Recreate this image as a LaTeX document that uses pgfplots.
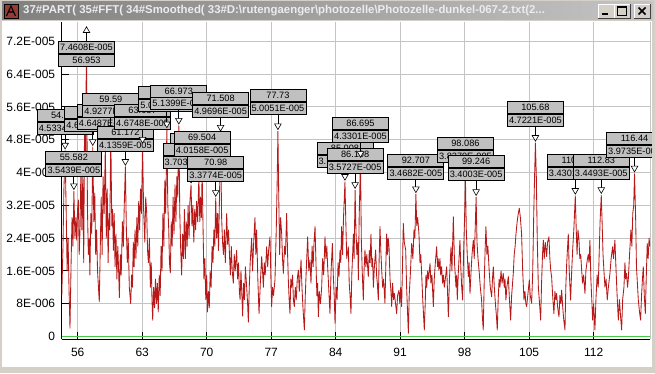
\documentclass[border=0pt]{standalone}
\usepackage{fontspec}
\setmainfont{Liberation Sans}
\usepackage{pgfplots}
\pgfplotsset{compat=1.18}
\definecolor{wingray}{RGB}{212,208,200}
\definecolor{boxgray}{RGB}{192,192,192}
\definecolor{gridcol}{RGB}{196,196,196}
\definecolor{linered}{RGB}{185,24,24}
\definecolor{zerogreen}{RGB}{70,200,70}
\definecolor{titledark}{RGB}{128,128,128}
\definecolor{titlelight}{RGB}{196,196,196}
\definecolor{titletext}{RGB}{236,236,236}
\definecolor{iconred}{RGB}{150,60,50}
\tikzset{cell/.style={draw=black, fill=boxgray, line width=0.8pt, minimum width=56pt, minimum height=12pt, inner sep=0pt, font=\fontsize{9.2}{10}\selectfont, text=black}}
% #1 x, #2 peak y, #3 box centre y, #4 top text, #5 bottom text
\newcommand{\ann}[5]{%
  \draw[black, line width=0.8pt] (axis cs:#1,#3) -- ([yshift=7pt]axis cs:#1,#2);
  \addplot[only marks, mark=triangle*, mark size=3.8pt, mark options={yshift=5.5pt, rotate=180, fill=white, draw=black, line width=0.6pt}] coordinates {(#1,#2)};
  \node[cell, anchor=south] at (axis cs:#1,#3) {#4};
  \node[cell, anchor=north] at (axis cs:#1,#3) {#5};
}
\newcommand{\annup}[5]{%
  \draw[black, line width=0.8pt] (axis cs:#1,#3) -- ([yshift=-1.5pt]axis cs:#1,#2);
  \addplot[only marks, mark=triangle*, mark size=3.8pt, mark options={fill=white, draw=black, line width=0.6pt}] coordinates {(#1,#2)};
  \node[cell, anchor=south] at (axis cs:#1,#3) {#4};
  \node[cell, anchor=north] at (axis cs:#1,#3) {#5};
}
\newcommand{\winbtn}[1]{%
  \fill[wingray] (#1,355pt) rectangle ++(16pt,14pt);
  \draw[white, line width=0.8pt] (#1,355pt) -- ++(0,14pt) -- ++(16pt,0);
  \draw[black!75, line width=0.8pt] (#1,355pt) -- ++(16pt,0) -- ++(0,14pt);
}
\begin{document}
\begin{tikzpicture}
\useasboundingbox (0,0) rectangle (655pt,373pt);
\fill[wingray] (0,0) rectangle (655pt,373pt);
\fill[white] (2pt,6pt) rectangle (653pt,352pt);
\begin{axis}[
  at={(61.7pt,34pt)}, anchor=south west,
  scale only axis, width=588.3pt, height=317pt,
  xmin=54.26, xmax=118.12, ymin=-0.061, ymax=7.671,
  axis x line*=bottom, axis y line*=left,
  axis line style={black, line width=1pt, -},
  xtick={56,63,70,77,84,91,98,105,112},
  xticklabels={56,63,70,77,84,91,98,105,112},
  ytick={0,0.8,1.6,2.4,3.2,4,4.8,5.6,6.4,7.2},
  yticklabels={0,8E-006,1.6E-005,2.4E-005,3.2E-005,4E-005,4.8E-005,5.6E-005,6.4E-005,7.2E-005},
  tick align=inside, major tick length=7pt,
  tick style={black, line width=1pt},
  grid=major, grid style={gridcol, line width=1pt},
  tick label style={font=\fontsize{12}{14}\selectfont, text=black},
  yticklabel style={xshift=-3pt},
  xticklabel style={yshift=-6pt},
  clip mode=individual,
]
\draw[gridcol, line width=1pt] (rel axis cs:1,0) -- (rel axis cs:1,1);
\addplot[zerogreen, line width=1pt] coordinates {(54.26,0) (118.12,0)};
\addplot[linered, line width=0.85pt, line join=round] table {
x y
54.27 1.0
54.40 2.2
54.50 3.6
54.632 4.53
54.75 3.0
54.85 1.6
54.95 2.4
55.06 1.1
55.16 0.2
55.28 1.8
55.38 2.9
55.48 2.2
55.582 3.54
55.70 2.4
55.80 2.9
55.89 2.35
55.98 3.1
56.07 3.33
56.16 2.0
56.25 2.6
56.35 4.2
56.45 2.6
56.55 3.9
56.65 1.8
56.75 5.5
56.85 4.0
56.953 7.46
57.05 3.2
57.15 2.0
57.25 2.4
57.32 1.5
57.42 3.0
57.52 2.5
57.63 4.62
57.75 2.8
57.85 3.5
57.95 2.0
58.05 2.6
58.15 1.6
58.25 1.2
58.34 0.85
58.45 2.2
58.55 3.4
58.65 2.0
58.75 3.9
58.87 3.0
58.997 4.65
59.10 2.4
59.20 3.6
59.30 1.8
59.40 3.0
59.48 2.6
59.59 4.93
59.70 2.7
59.78 3.1
59.87 2.1
59.96 3.0
60.05 1.7
60.15 2.5
60.25 1.4
60.35 2.2
60.44 1.6
60.52 0.95
60.62 2.0
60.72 1.5
60.85 2.8
60.95 2.2
61.05 3.2
61.172 4.14
61.28 2.6
61.38 1.8
61.48 2.4
61.60 1.2
61.75 0.8
61.85 1.5
61.94 1.2
62.03 2.3
62.12 1.7
62.22 2.6
62.32 1.9
62.42 2.9
62.52 2.2
62.62 3.3
62.72 2.6
62.82 3.6
62.92 3.0
63.037 4.67
63.15 3.1
63.28 2.3
63.38 3.4
63.49 3.0
63.58 2.1
63.67 1.8
63.78 2.4
63.88 1.2
63.98 1.8
64.06 0.9
64.14 0.4
64.24 1.2
64.34 0.7
64.44 1.4
64.54 0.8
64.64 1.3
64.74 0.6
64.85 1.5
64.95 1.0
65.05 2.2
65.15 1.6
65.25 3.0
65.35 2.2
65.45 3.8
65.55 3.0
65.672 5.05
65.78 3.2
65.88 2.6
65.96 1.8
66.05 1.55
66.15 2.8
66.25 2.2
66.35 3.4
66.45 2.5
66.56 3.7
66.66 2.8
66.76 3.9
66.86 3.4
66.973 5.14
67.08 3.0
67.18 2.1
67.28 1.5
67.38 2.5
67.48 1.9
67.58 3.1
67.68 1.9
67.78 2.8
67.88 2.2
67.98 3.2
68.08 2.4
68.18 3.3
68.301 3.70
68.40 2.7
68.50 3.2
68.60 2.3
68.70 3.1
68.80 2.6
68.90 3.3
69.02 2.8
69.15 3.9
69.25 2.8
69.33 3.4
69.42 2.9
69.504 4.02
69.60 2.7
69.70 1.4
69.80 1.9
69.90 0.9
70.00 1.5
70.08 0.6
70.18 1.1
70.28 0.7
70.38 1.6
70.48 1.2
70.58 2.2
70.68 1.8
70.78 2.6
70.88 2.2
70.98 3.38
71.08 2.4
71.18 3.0
71.28 2.1
71.38 3.3
71.508 4.97
71.62 2.9
71.72 2.3
71.82 2.0
71.92 2.6
72.02 1.8
72.17 3.0
72.27 2.25
72.37 2.6
72.47 2.0
72.57 1.5
72.67 2.2
72.77 1.6
72.89 1.3
72.99 2.0
73.09 1.6
73.25 2.1
73.35 1.4
73.45 1.8
73.55 1.1
73.62 0.9
73.72 1.6
73.82 1.0
73.90 0.5
74.00 1.3
74.10 0.9
74.20 1.7
74.34 1.2
74.44 0.8
74.52 0.35
74.62 1.2
74.72 1.8
74.88 2.4
74.98 1.6
75.08 2.2
75.24 2.9
75.33 2.0
75.42 2.6
75.55 1.4
75.68 0.56
75.82 1.3
75.97 1.95
76.06 1.6
76.15 1.2
76.25 1.8
76.35 1.5
76.51 2.19
76.62 1.7
76.72 2.1
76.87 2.43
76.96 1.5
77.05 0.73
77.15 1.2
77.25 1.0
77.41 1.38
77.55 2.6
77.65 3.8
77.73 5.0
77.82 3.4
77.92 2.0
78.02 2.9
78.14 2.5
78.23 1.9
78.32 1.54
78.45 2.2
78.55 2.0
78.68 3.0
78.78 2.0
78.86 1.38
78.95 0.9
79.04 0.56
79.13 1.4
79.22 1.2
79.32 1.5
79.41 0.9
79.51 0.73
79.62 1.2
79.72 0.9
79.83 1.4
79.95 1.62
80.05 1.1
80.15 1.5
80.24 1.87
80.34 1.2
80.45 0.7
80.60 0.16
80.70 1.0
80.82 1.7
80.96 2.43
81.08 1.6
81.21 1.87
81.32 1.3
81.44 2.2
81.55 1.7
81.65 2.3
81.76 2.68
81.86 1.8
81.96 1.0
82.04 1.3
82.12 0.48
82.22 1.1
82.35 0.8
82.48 1.2
82.58 1.9
82.70 1.5
82.84 2.43
82.94 1.9
83.04 2.2
83.13 1.7
83.24 1.2
83.38 0.56
83.50 1.6
83.64 2.27
83.74 1.5
83.84 1.0
83.93 0.32
84.05 1.2
84.15 0.9
84.26 1.8
84.36 1.46
84.47 2.1
84.55 1.8
84.65 2.68
84.75 2.0
84.85 2.9
85.008 3.77
85.10 2.8
85.20 1.9
85.37 2.19
85.47 1.3
85.56 1.0
85.66 0.56
85.75 1.5
85.84 2.0
85.92 2.5
86.00 1.9
86.108 3.57
86.20 2.6
86.30 2.0
86.40 2.3
86.46 1.38
86.55 2.9
86.695 4.33
86.78 2.4
86.88 1.6
87.00 0.89
87.08 1.6
87.18 2.11
87.28 1.7
87.38 2.0
87.54 1.46
87.65 2.1
87.74 1.8
87.83 2.5
87.93 1.7
88.01 1.9
88.09 1.2
88.20 1.7
88.34 2.11
88.44 1.5
88.52 1.3
88.63 0.89
88.72 1.9
88.81 2.68
88.90 2.1
89.00 1.6
89.10 1.2
89.20 1.4
89.35 0.81
89.44 1.7
89.53 2.5
89.62 2.0
89.70 2.4
89.79 2.19
89.90 1.4
90.00 1.1
90.08 0.73
90.18 1.3
90.28 0.9
90.37 1.05
90.50 0.8
90.62 0.56
90.72 1.0
90.87 1.13
90.96 0.8
91.06 1.2
91.16 0.73
91.25 1.7
91.34 2.76
91.45 2.3
91.60 2.11
91.70 1.2
91.80 0.6
91.89 0.08
91.98 1.0
92.10 1.5
92.25 2.27
92.38 1.9
92.50 2.6
92.60 2.4
92.707 3.47
92.80 2.7
92.90 2.9
93.04 2.5
93.15 1.8
93.24 2.0
93.33 1.54
93.45 0.9
93.62 0.16
93.72 0.8
93.80 1.5
93.88 1.2
93.98 1.6
94.08 1.4
94.24 1.78
94.34 1.3
94.45 1.5
94.60 0.73
94.70 1.4
94.82 1.8
94.96 2.19
95.06 1.7
95.12 1.9
95.21 1.62
95.32 1.9
95.40 1.5
95.50 1.7
95.60 1.3
95.70 1.5
95.79 1.2
95.90 1.4
96.05 1.7
96.14 1.1
96.23 0.48
96.35 1.4
96.52 2.19
96.62 1.6
96.77 2.92
96.90 1.8
97.06 1.2
97.14 1.5
97.20 0.89
97.32 1.6
97.49 2.35
97.58 1.7
97.68 1.2
97.78 0.89
97.88 2.0
97.98 2.8
98.086 3.83
98.18 2.6
98.28 2.0
98.40 1.46
98.48 1.8
98.58 1.05
98.70 1.6
98.80 2.0
98.94 2.35
99.04 1.9
99.14 2.6
99.246 3.40
99.34 2.3
99.45 1.9
99.59 1.54
99.70 1.2
99.84 0.89
99.92 0.5
100.02 0.16
100.12 1.3
100.22 2.1
100.31 2.68
100.42 2.0
100.52 2.2
100.68 1.54
100.78 1.2
100.93 0.97
101.02 1.4
101.11 1.7
101.22 1.2
101.34 0.8
101.45 0.5
101.54 0.16
101.64 0.9
101.74 1.4
101.83 1.2
101.95 1.6
102.06 1.3
102.19 1.54
102.30 1.2
102.38 1.4
102.48 0.89
102.58 1.2
102.74 1.46
102.84 1.0
102.99 0.4
103.10 1.0
103.28 1.54
103.38 2.0
103.48 2.2
103.57 2.5
103.70 2.8
103.82 3.0
103.93 3.13
104.05 2.9
104.18 2.5
104.30 1.6
104.44 0.89
104.55 1.1
104.64 0.8
104.73 0.73
104.85 1.0
105.02 1.38
105.12 1.0
105.27 0.81
105.38 1.5
105.50 3.0
105.58 3.8
105.68 4.72
105.78 3.9
105.88 2.4
106.00 1.2
106.10 0.9
106.25 0.4
106.35 1.3
106.45 2.0
106.54 2.35
106.64 1.9
106.75 2.3
106.90 1.95
107.00 2.3
107.15 2.43
107.25 1.9
107.35 1.6
107.44 1.46
107.55 1.0
107.69 0.56
107.80 1.1
107.90 0.9
107.98 1.05
108.10 0.7
108.24 0.48
108.34 1.0
108.45 0.8
108.53 1.13
108.65 0.7
108.76 0.4
108.89 0.16
108.98 1.2
109.08 1.8
109.25 2.5
109.35 1.6
109.50 0.89
109.60 1.5
109.72 2.1
109.85 2.6
110.01 3.43
110.10 2.7
110.20 2.0
110.30 2.6
110.41 2.35
110.50 1.9
110.60 2.0
110.70 1.62
110.80 1.3
110.92 1.5
111.06 1.05
111.16 1.6
111.31 1.87
111.42 2.0
111.50 1.8
111.60 2.35
111.70 1.4
111.82 0.8
111.89 0.4
112.00 0.8
112.14 0.16
112.25 0.9
112.38 1.5
112.50 1.2
112.60 2.0
112.70 2.8
112.83 3.45
112.92 2.8
113.02 2.0
113.12 1.6
113.23 1.2
113.35 1.4
113.48 0.89
113.60 1.2
113.77 1.54
113.90 1.9
114.06 2.19
114.16 1.9
114.31 2.35
114.42 1.7
114.55 1.0
114.68 0.4
114.80 0.9
114.92 0.5
115.04 0.16
115.15 0.9
115.29 1.2
115.40 1.8
115.48 1.4
115.58 1.54
115.68 1.2
115.76 1.38
115.90 2.0
116.05 2.6
116.15 2.2
116.25 3.0
116.35 3.2
116.44 3.97
116.56 2.9
116.65 1.7
116.75 1.3
116.85 0.89
116.98 0.6
117.10 0.4
117.20 1.0
117.30 1.4
117.39 1.7
117.50 1.0
117.61 0.56
117.72 1.5
117.82 2.27
117.92 1.9
118.02 2.4
118.12 2.19
};
% annotations, back to front
\ann{54.632}{4.5334}{5.232}{54.632}{4.5334E-005}
\ann{57.63}{4.62}{5.312}{57.634}{4.6203E-005}
\ann{58.997}{4.6487}{5.354}{58.997}{4.6487E-005}
\ann{59.59}{4.9277}{5.639}{59.59}{4.9277E-005}
\ann{61.172}{4.1359}{4.817}{61.172}{4.1359E-005}
\ann{63.037}{4.6748}{5.354}{63.037}{4.6748E-005}
\ann{65.672}{5.0512}{5.793}{65.672}{5.0512E-005}
\ann{66.973}{5.1399}{5.834}{66.973}{5.1399E-005}
\ann{71.508}{4.9696}{5.646}{71.508}{4.9696E-005}
\ann{77.73}{5.0051}{5.72}{77.73}{5.0051E-005}
\annup{56.953}{7.4608}{6.893}{7.4608E-005}{56.953}
\ann{55.582}{3.5439}{4.215}{55.582}{3.5439E-005}
\ann{69.15}{3.9}{4.66}{69.15}{3.9012E-005}
\ann{68.301}{3.7031}{4.402}{68.301}{3.7031E-005}
\ann{69.504}{4.0158}{4.695}{69.504}{4.0158E-005}
\ann{70.98}{3.3774}{4.085}{70.98}{3.3774E-005}
\ann{85.008}{3.7712}{4.427}{85.008}{3.7712E-005}
\ann{86.108}{3.5727}{4.280}{86.108}{3.5727E-005}
\ann{86.695}{4.3301}{5.037}{86.695}{4.3301E-005}
\ann{92.707}{3.4682}{4.134}{92.707}{3.4682E-005}
\ann{98.086}{3.8279}{4.549}{98.086}{3.8279E-005}
\ann{99.246}{3.4003}{4.110}{99.246}{3.4003E-005}
\ann{105.68}{4.7221}{5.427}{105.68}{4.7221E-005}
\ann{110.01}{3.4301}{4.134}{110.01}{3.4301E-005}
\ann{112.83}{3.4493}{4.134}{112.83}{3.4493E-005}
\ann{116.44}{3.9735}{4.671}{116.44}{3.9735E-005}
\end{axis}
% right window border over the clipped box
\fill[wingray] (652pt,0) rectangle (655pt,373pt);
% title bar
\fill[wingray] (0,352pt) rectangle (655pt,373pt);
\shade[left color=titledark, right color=titlelight] (2pt,353pt) rectangle (653pt,371pt);
\fill[iconred] (4pt,355pt) rectangle (18pt,369pt);
\draw[black, line width=0.8pt] (4pt,355pt) rectangle (18pt,369pt);
\draw[black, line width=1.1pt] (6.5pt,357pt) -- (11pt,367pt) -- (15.5pt,357pt) (8.5pt,361pt) -- (13.5pt,361pt);
\node[anchor=west, text=titletext, inner sep=0pt, font=\bfseries\fontsize{11.4}{13}\selectfont] at (23pt,362pt) {37\#PART( 35\#FFT( 34\#Smoothed( 33\#D:\textbackslash rutengaenger\textbackslash photozelle\textbackslash Photozelle-dunkel-067-2.txt(2...};
% buttons
\winbtn{598pt}
\winbtn{614pt}
\winbtn{634pt}
\fill[black] (602pt,358pt) rectangle (608pt,360pt);
\draw[black, line width=0.9pt] (617.5pt,358pt) rectangle (626.5pt,366.5pt);
\fill[black] (617pt,365pt) rectangle (627pt,367pt);
\draw[black, line width=1.6pt] (638.5pt,358.5pt) -- (645.5pt,365.5pt) (638.5pt,365.5pt) -- (645.5pt,358.5pt);
\end{tikzpicture}
\end{document}
